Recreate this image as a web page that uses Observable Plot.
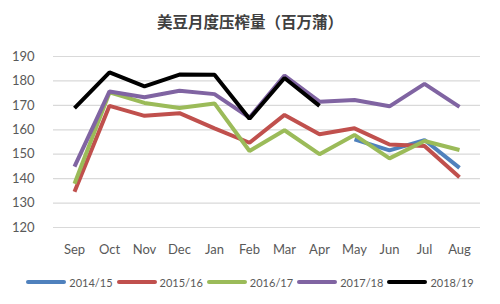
<!DOCTYPE html>
<html>
<head>
<meta charset="utf-8">
<script src="https://cdn.jsdelivr.net/npm/d3@7"></script>
<script src="https://cdn.jsdelivr.net/npm/@observablehq/plot@0.6"></script>
<style>
  body { margin: 0; background: #fff; font-family: Lato, "Noto Sans", sans-serif; }
  #wrap { width: 500px; height: 304px; position: relative; overflow: hidden; }
  #title { height: 42px; line-height: 42px; text-align: center; font-family: "Noto Sans CJK SC", sans-serif; font-weight: bold; font-size: 15.5px; color: #404040; margin-bottom: -2px; }
  #legend { height: 40px; display: flex; justify-content: center; align-items: center; font-size: 11px; color: #595959; }
  .item { display: flex; align-items: center; margin: 0 2px; }
  .sw { display: inline-block; width: 40px; height: 4px; border-radius: 2px; margin-right: 3px; }
</style>
</head>
<body>
<div id="wrap">
  <div id="title">美豆月度压榨量（百万蒲）</div>
  <div id="chart"></div>
  <div id="legend"></div>
</div>
<script>
const months = ["Sep","Oct","Nov","Dec","Jan","Feb","Mar","Apr","May","Jun","Jul","Aug"];
const seasons = ["2014/15","2015/16","2016/17","2017/18","2018/19"];
const colors = ["#4f81bd","#c0504d","#9bbb59","#8064a2","#000000"];
const yTicks = [120,130,140,150,160,170,180,190];

const v2014 = [null,null,null,null,null,null,null,null,156.1,151.6,155.8,144.4];
const v2015 = [134.6,169.8,165.7,166.8,160.6,154.7,166.1,158.2,160.6,154.0,153.4,140.6];
const v2016 = [137.9,175.3,171.0,168.9,170.8,151.3,159.8,150.0,157.9,148.3,155.4,151.7];
const v2017 = [144.9,175.7,173.3,176.0,174.6,165.0,182.2,171.5,172.2,169.6,178.8,169.4];
const v2018 = [168.9,183.5,177.8,182.6,182.5,164.5,181.2,169.8,null,null,null,null];

const series = [v2014, v2015, v2016, v2017, v2018];
const rows = seasons.flatMap((s, i) => series[i].map((v, j) => ({month: months[j], season: s, value: v})));

const chart = Plot.plot({
  width: 500,
  height: 222,
  marginTop: 16,
  marginLeft: 53,
  marginRight: 20,
  marginBottom: 35,
  style: {fontFamily: "Lato, 'Noto Sans', sans-serif", fontSize: "13px", color: "#595959", background: "#fff"},
  x: {type: "point", domain: months, padding: 0.5},
  y: {domain: [120, 190]},
  color: {domain: seasons, range: colors},
  marks: [
    Plot.gridY(yTicks, {stroke: "#d9d9d9", strokeOpacity: 1, strokeWidth: 1.2}),
    Plot.axisY(yTicks, {tickSize: 0, tickPadding: 19, label: null, fontSize: 13, fill: "#595959"}),
    Plot.axisX(months, {tickSize: 0, tickPadding: 17, label: null, fontSize: 13, fill: "#595959"}),
    Plot.line(rows, {x: "month", y: "value", z: "season", stroke: "season", strokeWidth: 4, strokeLinejoin: "miter", strokeLinecap: "butt"})
  ]
});
document.getElementById("chart").appendChild(chart);

const legend = document.getElementById("legend");
seasons.forEach((s, i) => {
  const it = document.createElement("div");
  it.className = "item";
  const sw = document.createElement("span");
  sw.className = "sw";
  sw.style.background = colors[i];
  it.appendChild(sw);
  const t = document.createElement("span");
  t.textContent = s;
  it.appendChild(t);
  legend.appendChild(it);
});
</script>
</body>
</html>
